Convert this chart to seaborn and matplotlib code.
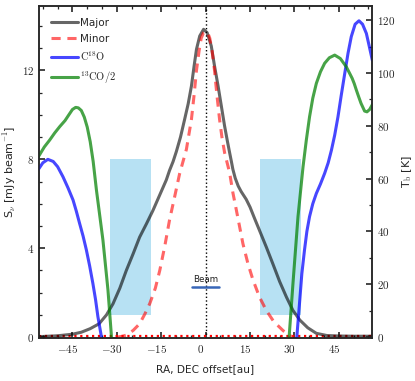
import numpy as np
import pandas as pd
import matplotlib
matplotlib.use("Agg")
import matplotlib.pyplot as plt
import matplotlib.transforms as mtransforms
import seaborn as sns

# ---------------- data ----------------
major_x = [-56.3, -50, -45, -42, -39, -36, -33.5, -31.3, -29, -26.8, -24.5, -22.3, -20, -17.8,
           -15.5, -13.3, -12.2, -11, -9.9, -8.5, -7.1, -5.9, -4.8, -3.9, -3.1, -2.0, -0.7, 0.5,
           1.9, 3.0, 4.2, 5.3, 6.4, 7.3, 8.1, 8.7, 9.2, 10.0, 11.0, 12.0, 13.7, 15.0, 16.5, 18.2,
           20.5, 22.7, 25.0, 27.3, 29.5, 31.8, 34.5, 37.4, 41, 45, 50, 56.2]
major_y = [0.02, 0.06, 0.13, 0.22, 0.38, 0.6, 1.0, 1.5, 2.2, 3.0, 3.75, 4.5, 5.1, 5.7,
           6.4, 7.07, 7.5, 7.9, 8.35, 9.0, 9.8, 10.5, 11.3, 12.2, 12.95, 13.55, 13.85, 13.7,
           13.1, 12.2, 11.3, 10.4, 9.5, 8.85, 8.3, 7.9, 7.55, 7.15, 6.8, 6.55, 6.2, 5.85, 5.35, 4.8,
           4.05, 3.3, 2.5, 1.8, 1.2, 0.77, 0.42, 0.17, 0.07, 0.05, 0.04, 0.04]

minor_x = [-30, -28, -26.8, -24.5, -22.3, -20.5, -18.9, -17, -15.5, -13.8, -12.2, -10.5,
           -8.8, -6.5, -4.8, -3.9, -3.1, -2.2, -1.5, -0.7, 0, 0.7, 1.4, 2.2, 3.0, 3.8, 4.7, 5.5,
           6.4, 8.1, 9.2, 10.4, 12.6, 14.3, 16.0, 18.2, 20.5, 23.0, 26.1, 28.0, 29.5]
minor_y = [0.0, 0.04, 0.09, 0.3, 0.6, 1.05, 1.5, 2.2, 3.0, 4.1, 5.27, 6.3,
           7.35, 8.45, 9.8, 10.9, 12.0, 12.9, 13.45, 13.7, 13.75, 13.7, 13.45, 12.85, 12.0, 10.9,
           9.8, 9.0, 8.3, 7.4, 6.5, 5.7, 4.2, 3.3, 2.57, 1.8, 1.2, 0.7, 0.3, 0.1, 0.0]

c18o_left_x = [-56.5, -55, -53.3, -51.5, -50, -48.2, -46.5, -44.8, -43.7, -42.6, -41.4,
               -40.3, -39.2, -38.1, -37.2, -36.4, -35.2, -34.9]
c18o_left_y = [63.5, 66, 67.3, 66.5, 64.5, 60.7, 56.5, 51.9, 47.7, 43.1, 38.2,
               33.0, 27.0, 20.3, 14.2, 7.7, 0, -2]
c18o_right_x = [30.6, 30.8, 31.8, 32.5, 33.4, 34.2, 35.1, 36.2, 37.4, 38.8, 40.2, 41.4, 42.5,
                43.6, 44.7, 45.8, 47, 48.1, 49.2, 50.5, 51.8, 53, 54.3, 55.3, 56.3]
c18o_right_y = [-2, 0, 14.0, 24.0, 33.0, 40.0, 45.6, 50.5, 54.4, 58.0, 62.0, 66.0, 70.8,
                76.5, 83.4, 91.5, 99.9, 107.5, 113.8, 118.5, 119.8, 118.5, 115, 110, 104.9]

co13_left_x = [-56.5, -54.5, -52.7, -51, -49.3, -47.5, -46.2, -45, -43.9, -43, -42, -41,
               -40, -39, -38, -36.9, -35.8, -34.7, -33, -31.9, -31.7]
co13_left_y = [68.3, 72, 74.6, 77.3, 79.7, 82, 84.2, 86.2, 87.0, 86.8, 85.8, 83.3,
               79.5, 74, 66.5, 55.7, 46.2, 36.7, 17.8, 1.4, -2]
co13_right_x = [28.0, 28.2, 29.5, 31.2, 32.9, 34.0, 35.1, 36.2, 37.4, 38.8, 40.2, 41.8,
                43.6, 45.5, 47.5, 48.5, 49.5, 50.2, 50.9, 51.7, 52.5, 53.7, 54.5, 55.4, 56.3]
co13_right_y = [-2, 0, 20.3, 45.6, 64.5, 74.5, 83.4, 90.5, 96.1, 100.5, 103.7, 105.8,
                106.8, 105.5, 102.4, 100.2, 98, 96, 93.6, 91.0, 88.5, 85.6, 85.3, 86.2, 88]

gap_left = [-32.4, -18.3]
gap_right = [18.2, 32.3]
gap_y = [1.0, 8.0]
beam_x = [-4.6, 4.6]
beam_y = 2.27

xticks = [-45, -30, -15, 0, 15, 30, 45]
yticks_left = [0, 4, 8, 12]
yticks_right = [0, 20, 40, 60, 80, 100, 120]

# ---------------- style ----------------
sns.set_style("ticks")
plt.rcParams["font.family"] = ["DejaVu Sans"]
plt.rcParams["mathtext.fontset"] = "cm"
plt.rcParams["axes.linewidth"] = 1.1

fig = plt.figure(figsize=(4.15, 3.81), dpi=100)
ax = fig.add_axes([39 / 415, 1 - 338 / 381, (372 - 39) / 415, (338 - 6) / 381])
ax2 = ax.twinx()

# shaded gap regions
for g in (gap_left, gap_right):
    ax.fill_between(g, [gap_y[0]] * 2, [gap_y[1]] * 2, color="skyblue", alpha=0.6,
                    linewidth=0, zorder=1)

df_major = pd.DataFrame({"x": major_x, "y": major_y})
df_minor = pd.DataFrame({"x": minor_x, "y": minor_y})
sns.lineplot(data=df_major, x="x", y="y", ax=ax, color="k", alpha=0.6, lw=2.2,
             sort=False, estimator=None, label="Major", zorder=3)
sns.lineplot(data=df_minor, x="x", y="y", ax=ax, color="r", alpha=0.6, lw=2.2,
             linestyle=(0, (3, 2.2)), sort=False, estimator=None, label="Minor", zorder=3)

ax.axvline(0, color="k", ls=":", lw=1.0, zorder=2)
ax.axhline(0.03, color="r", ls=":", lw=1.6, zorder=2)
ax.plot(beam_x, [beam_y, beam_y], color="#3866b8", lw=1.8, zorder=4)
ax.text(0, beam_y + 0.12, "Beam", ha="center", va="bottom", fontsize=6.3, color="#222222")

sns.lineplot(x=c18o_left_x, y=c18o_left_y, ax=ax2, color="b", alpha=0.72, lw=2.2,
             sort=False, estimator=None, label=r"$\mathrm{C^{18}O}$")
sns.lineplot(x=c18o_right_x, y=c18o_right_y, ax=ax2, color="b", alpha=0.72, lw=2.2,
             sort=False, estimator=None)
sns.lineplot(x=co13_left_x, y=co13_left_y, ax=ax2, color="g", alpha=0.72, lw=2.2,
             sort=False, estimator=None, label=r"$\mathrm{^{13}CO/2}$")
sns.lineplot(x=co13_right_x, y=co13_right_y, ax=ax2, color="g", alpha=0.72, lw=2.2,
             sort=False, estimator=None)

ax.set_xlim(-56.3, 56.2)
ax.set_ylim(-0.04, 14.9)
ax2.set_ylim(-0.38, 125.4)

ax.set_xticks(xticks)
ax.set_xticklabels([f"${v}$" for v in xticks])
ax.set_yticks(yticks_left)
ax.set_yticklabels([f"${v}$" for v in yticks_left])
ax2.set_yticks(yticks_right)
ax2.set_yticklabels([f"${v}$" for v in yticks_right])
ax.xaxis.set_minor_locator(matplotlib.ticker.MultipleLocator(5))
ax.yaxis.set_minor_locator(matplotlib.ticker.MultipleLocator(1))
ax2.yaxis.set_minor_locator(matplotlib.ticker.MultipleLocator(10))

ax.tick_params(axis="x", which="both", direction="in", top=True, bottom=True, labelsize=8)
ax.tick_params(axis="y", which="both", direction="in", left=True, right=False, labelsize=8)
ax2.tick_params(axis="y", which="both", direction="in", right=True, labelsize=8)
for a in (ax, ax2):
    a.tick_params(which="major", length=4, width=1.2)
    a.tick_params(which="minor", length=2.2, width=0.9)

offset = mtransforms.ScaledTranslation(-5 / 100, 0, fig.dpi_scale_trans)
for t in ax.xaxis.get_major_ticks():
    t.label1.set_transform(t.label1.get_transform() + offset)

ax.set_xlabel("RA, DEC offset[au]", fontsize=7.6, labelpad=7)
ax.set_ylabel(r"S$_\nu$ [mJy beam$^{-1}$]", fontsize=8, labelpad=3)
ax2.set_ylabel(r"T$_{\rm b}$ [K]", fontsize=8, labelpad=4)

ax.get_legend().remove()
h1, l1 = ax.get_legend_handles_labels()
h2, l2 = ax2.get_legend_handles_labels()
ax2.legend(h1 + h2, l1 + l2, loc="upper left", frameon=False, fontsize=7.5,
           handlelength=2.6, handletextpad=0.2, labelspacing=0.55,
           borderaxespad=0.75)

fig.savefig("out.png", dpi=100)
